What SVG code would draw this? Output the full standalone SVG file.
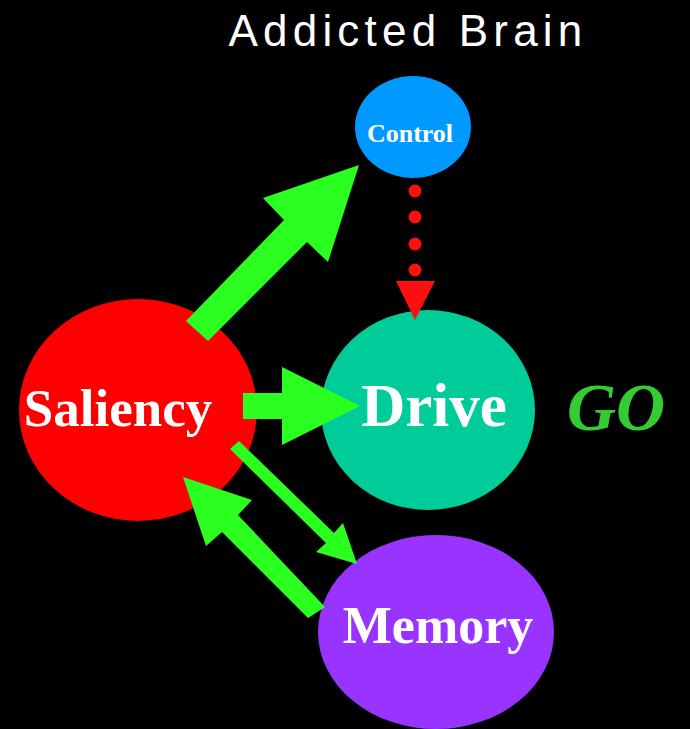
<svg xmlns="http://www.w3.org/2000/svg" width="690" height="729" viewBox="0 0 690 729">
<style>
.lbl{font-family:"Liberation Serif","Times New Roman",serif;font-weight:bold;fill:#fff;text-anchor:middle}
.arr{fill:#2bff1f}
.ctl{fill:#ff0f0f}
</style>
<rect width="690" height="729" fill="#000"/>
<text x="408" y="46" font-family="Liberation Sans, Arial, sans-serif" font-size="44" fill="#fff" text-anchor="middle" letter-spacing="5.2">Addicted Brain</text>
<g id="saliency"><ellipse cx="138" cy="410" rx="119" ry="111" fill="#ff0000"/><text class="lbl" x="118" y="426" font-size="53">Saliency</text></g>
<g id="control"><ellipse cx="413" cy="127" rx="58" ry="51" fill="#0099ff"/><text class="lbl" x="410" y="142" font-size="26">Control</text></g>
<g id="drive"><ellipse cx="428" cy="410" rx="107" ry="100" fill="#00cc99"/><text class="lbl" x="434" y="426" font-size="61">Drive</text></g>
<g id="memory"><ellipse cx="436" cy="632" rx="118" ry="97" fill="#9933ff"/><text class="lbl" x="438" y="643" font-size="52">Memory</text></g>
<g id="go"><text x="616" y="430" font-family="Liberation Serif, Times New Roman, serif" font-weight="bold" font-style="italic" font-size="68" fill="#33cc33" text-anchor="middle">GO</text></g>
<g id="connectors">
<polygon class="arr" points="186,321 284,220 263,198 359,165 328,262 307,242 208,341"/>
<polygon class="arr" points="243,393 282,393 282,367 360,406 282,445 282,419 243,419"/>
<polygon class="arr" points="239,441 334,533 343,523 357,564 316,552 326,543 230,449"/>
<polygon class="arr" points="325,607 238,515 252,500 183,477 206,546 222,532 308,618"/>
<g class="ctl"><circle cx="415" cy="191" r="6.5"/><circle cx="415" cy="217" r="6.5"/><circle cx="415" cy="244" r="6.5"/><circle cx="415" cy="270" r="6.5"/><polygon points="396,281 435,281 415,320"/></g>
</g>
</svg>
